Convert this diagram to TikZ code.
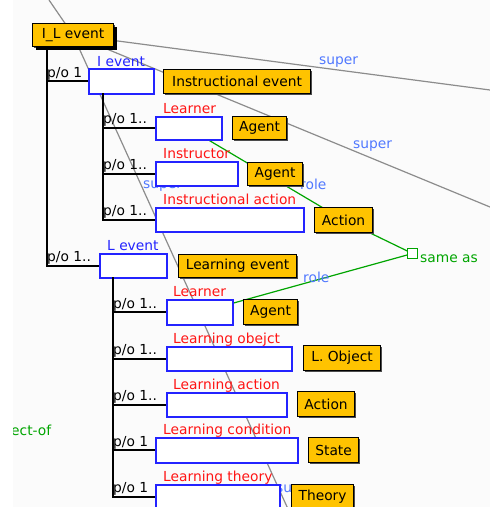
\documentclass[tikz,border=0pt]{standalone}
\usepackage{fontspec}
\setmainfont{DejaVu Sans}
\usetikzlibrary{shadows}
\pgfdeclarelayer{bg}
\pgfdeclarelayer{lines}
\pgfsetlayers{bg,lines,main}
\definecolor{oboxc}{RGB}{255,195,0}
\definecolor{bbord}{RGB}{35,35,255}
\definecolor{rtxt}{RGB}{255,20,20}
\definecolor{ltxt}{RGB}{80,120,255}
\definecolor{gline}{RGB}{0,165,0}
\definecolor{grl}{RGB}{140,140,140}
\definecolor{pagebg}{RGB}{251,251,251}
\newcommand\fsz{\fontsize{13.8}{16}\selectfont}
\begin{document}
\begin{tikzpicture}[x=1pt,y=-1pt,
  obox/.style={draw=black, line width=1.2pt, fill=oboxc, inner sep=0pt, anchor=north west, font=\fsz,
    drop shadow={shadow xshift=1.2pt, shadow yshift=-1.2pt, fill=black!70, opacity=1}},
  bbox/.style={draw=bbord, line width=1.7pt, fill=white, inner sep=0pt, anchor=north west},
  redlab/.style={text=rtxt, font=\fsz, inner sep=0pt, anchor=base west},
  bluelab/.style={text=bbord, font=\fsz, inner sep=0pt, anchor=base west},
  rellab/.style={text=ltxt, font=\fsz, inner sep=0pt, anchor=base west},
  greenlab/.style={text=gline, font=\fsz, inner sep=0pt, anchor=base west},
  polab/.style={text=black, font=\fsz, inner sep=0pt, anchor=base west},
  tree/.style={draw=black, line width=2pt},
  superline/.style={draw=grl, line width=1.2pt},
  rolel/.style={draw=gline, line width=1.2pt}]
\useasboundingbox (0,0) rectangle (490,507);
\begin{pgfonlayer}{bg}
\fill[white] (0,0) rectangle (490,507);
\fill[pagebg] (13,0) rectangle (490,507);
\end{pgfonlayer}

% relation labels drawn first (partly hidden by boxes)
\node[rellab] (s1) at (319,64) {super};
\node[rellab] (s2) at (353,148) {super};
\node[rellab] (s3) at (143,188) {super};
\node[rellab] (s4) at (276,492) {su};
\node[rellab] (r1) at (300,189) {role};
\node[rellab] (r2) at (303,282) {role};
\node[greenlab] (sa) at (420,262) {same as};
\begin{scope}
\clip (13,380) rectangle (100,460);
\node[greenlab] (eo) at (11,435) {ect-of};
\end{scope}

% boxes
\node[obox, minimum width=81, minimum height=23,
  drop shadow={shadow xshift=3pt, shadow yshift=-3pt, fill=black, opacity=1}] (IL) at (32,23) {I\_L event};
\node[bbox, minimum width=65, minimum height=25] (Iev) at (88,68) {};
\node[obox, minimum width=147, minimum height=24] (IE) at (163,69) {Instructional event};
\node[bbox, minimum width=66, minimum height=23] (Lr1) at (155,116) {};
\node[obox, minimum width=54, minimum height=23] (Ag1) at (232,116) {Agent};
\node[bbox, minimum width=82, minimum height=24] (Ins) at (155,161) {};
\node[obox, minimum width=55, minimum height=23] (Ag2) at (247,162) {Agent};
\node[bbox, minimum width=148, minimum height=24] (IA) at (155,207) {};
\node[obox, minimum width=58, minimum height=25] (Ac1) at (314,207) {Action};
\node[bbox, minimum width=67, minimum height=24] (Lev) at (99,253) {};
\node[obox, minimum width=118, minimum height=23] (LE) at (178,254) {Learning event};
\node[bbox, minimum width=66, minimum height=25] (Lr2) at (166,299) {};
\node[obox, minimum width=54, minimum height=25] (Ag3) at (243,299) {Agent};
\node[bbox, minimum width=125, minimum height=24] (LO) at (166,346) {};
\node[obox, minimum width=77, minimum height=25] (LOb) at (303,345) {L. Object};
\node[bbox, minimum width=120, minimum height=24] (LA) at (166,392) {};
\node[obox, minimum width=57, minimum height=25] (Ac2) at (297,391) {Action};
\node[bbox, minimum width=142, minimum height=25] (LC) at (155,437) {};
\node[obox, minimum width=50, minimum height=25] (St) at (308,437) {State};
\node[bbox, minimum width=124, minimum height=25] (LT) at (155,484) {};
\node[obox, minimum width=62, minimum height=25] (Th) at (291,484) {Theory};
\node[draw=gline, line width=1.2pt, fill=white, minimum size=10, inner sep=0pt] (sq) at (412.5,253.5) {};

% box labels
\node[bluelab] (lIev) at (97,66) {I event};
\node[redlab] (lLr1) at (163,113) {Learner};
\node[redlab] (lIns) at (163,158) {Instructor};
\node[redlab] (lIA) at (163,204) {Instructional action};
\node[bluelab] (lLev) at (107,250) {L event};
\node[redlab] (lLr2) at (173,296) {Learner};
\node[redlab] (lLO) at (173,343) {Learning obejct};
\node[redlab] (lLA) at (173,389) {Learning action};
\node[redlab] (lLC) at (163,434) {Learning condition};
\node[redlab] (lLT) at (163,481) {Learning theory};

% part-of tree
\coordinate (t1) at (47,46);
\coordinate (t2) at (103,93);
\coordinate (t3) at (113,277);
\draw[tree] (t1) |- (Iev.west);
\draw[tree] (t1) |- (Lev.west);
\draw[tree] (t2) |- (Lr1.west);
\draw[tree] (t2) |- (Ins.west);
\draw[tree] (t2) |- (IA.west);
\draw[tree] (t3) |- (Lr2.west);
\draw[tree] (t3) |- (LO.west);
\draw[tree] (t3) |- (LA.west);
\draw[tree] (t3) |- (LC.west);
\draw[tree] (t3) |- (LT.west);
\node[polab] (p1) at (47,77) {p/o 1};
\node[polab] (p2) at (103,123) {p/o 1..};
\node[polab] (p3) at (103,169) {p/o 1..};
\node[polab] (p4) at (103,215) {p/o 1..};
\node[polab] (p5) at (47,261) {p/o 1..};
\node[polab] (p6) at (113,308) {p/o 1..};
\node[polab] (p7) at (113,354) {p/o 1..};
\node[polab] (p8) at (113,400) {p/o 1..};
\node[polab] (p9) at (113,446) {p/o 1};
\node[polab] (p10) at (113,492) {p/o 1};

% super and role connectors behind boxes
\coordinate (gA) at (49,0);
\coordinate (gB) at (490,90);
\coordinate (gC) at (288,509);
\coordinate (gD) at (490,207);
\begin{pgfonlayer}{lines}
\draw[superline] (gA) -- (IL.center);
\draw[superline] (IL.center) -- (gB);
\draw[superline] (IL.center) -- (gC);
\draw[superline] (IL.center) -- (gD);
\draw[rolel] (Lr1.center) -- (Ac1.center);
\draw[rolel] (Ac1.center) -- (sq.center);
\draw[rolel] (sq.center) -- (Lr2.center);
\end{pgfonlayer}
\end{tikzpicture}
\end{document}
